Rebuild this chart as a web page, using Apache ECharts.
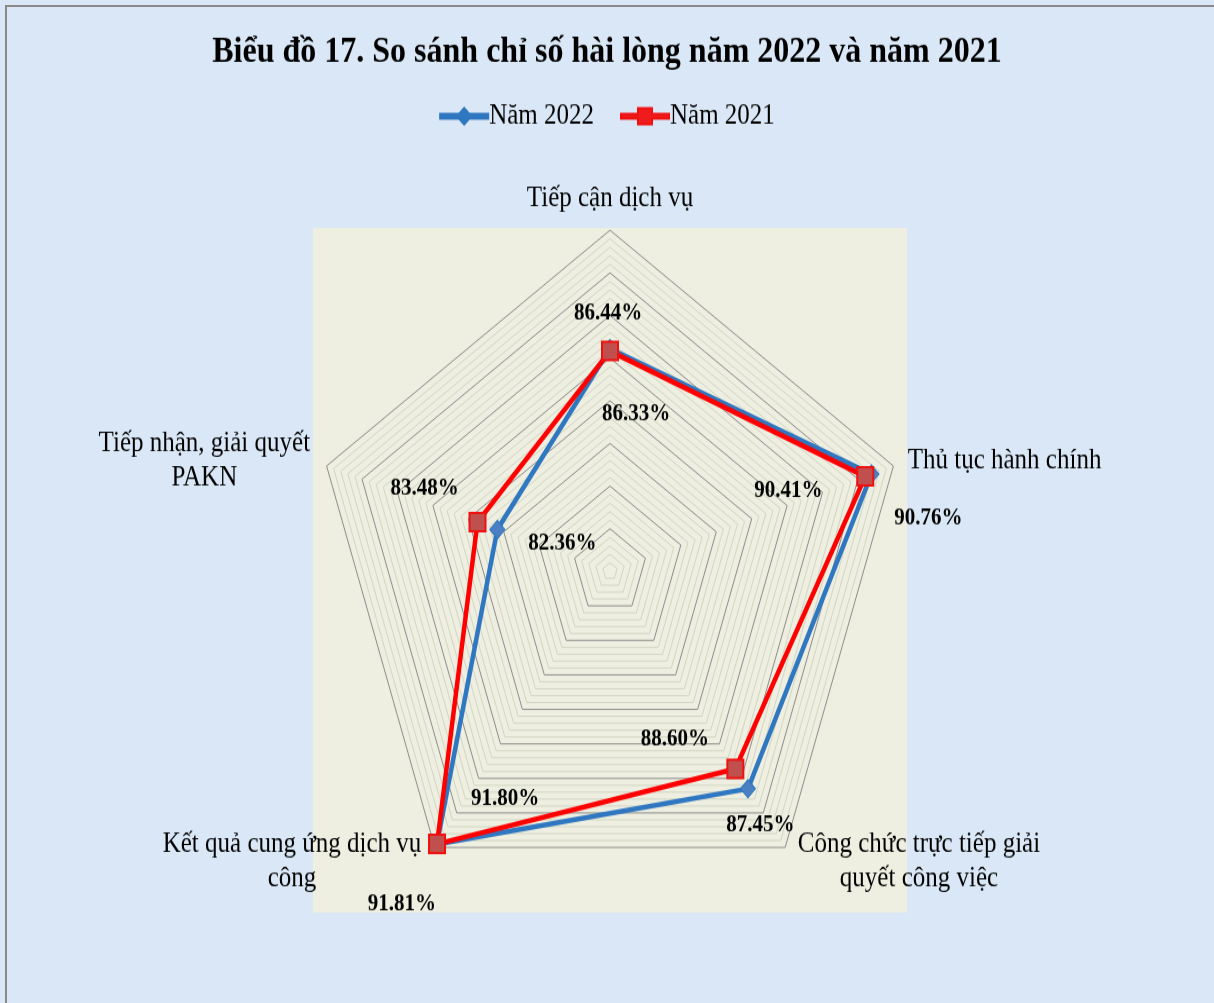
<!DOCTYPE html>
<html>
<head>
<meta charset="utf-8">
<script src="https://cdn.jsdelivr.net/npm/echarts@6/dist/echarts.min.js"></script>
<style>
html,body{margin:0;padding:0;background:#d9e7f6;width:1214px;height:1003px;overflow:hidden;}
#frame{position:absolute;left:5px;top:5px;width:1209px;height:998px;border-left:2px solid #8a8a8a;border-top:2px solid #8a8a8a;box-sizing:border-box;}
#c{position:absolute;left:0;top:0;width:1214px;height:876px;transform:scaleY(1.145);transform-origin:0 0;}
</style>
</head>
<body>
<div id="frame"></div>
<div id="c"></div>
<script>
// ---- data ----
// order follows ECharts' counter-clockwise layout so the chart reads clockwise:
// top, left, lower-left, lower-right, right
const titleText = 'Biểu đồ 17. So sánh chỉ số hài lòng năm 2022 và năm 2021';
const indicators = ['Tiếp cận dịch vụ', 'Tiếp nhận, giải quyết PAKN', 'Kết quả cung ứng dịch vụ công', 'Công chức trực tiếp giải quyết công việc', 'Thủ tục hành chính'];
const seriesNames = ['Năm 2022', 'Năm 2021'];
const values2022 = [86.44, 82.36, 91.81, 88.60, 90.76];
const values2021 = [86.33, 83.48, 91.80, 87.45, 90.41];
const axisMin = 76;
const axisMax = 92;

// label placement (offsets from the point, px) - styling only
const labelOffsets2022 = [[-2, -31], [65, 12], [-35, 52], [-73, -43], [57, 39]];
const labelOffsets2021 = [[26, 55], [-53, -29], [68, -39], [25, 49], [-77, 13]];

const FONT = 'Liberation Serif, Times New Roman, serif';
const chart = echarts.init(document.getElementById('c'), null, {renderer: 'canvas'});

function fmt(v) { return v.toFixed(2) + '%'; }

function labelSeries(arr, dim, off) {
  return {
    type: 'radar',
    name: 'lbl',
    silent: true,
    z: 5,
    symbol: 'circle',
    symbolSize: 1,
    itemStyle: {color: 'rgba(0,0,0,0)'},
    lineStyle: {width: 0, opacity: 0},
    label: {
      show: true,
      position: 'inside',
      offset: off,
      color: '#000',
      fontFamily: FONT,
      fontWeight: 'bold',
      fontSize: 21,
      formatter: function (p) {
        if (p.dimensionIndex != null) return p.dimensionIndex === dim ? fmt(arr[dim]) : '';
        return p.value === arr[dim] ? fmt(arr[dim]) : '';
      }
    },
    data: [{value: arr}]
  };
}

const nameRich = {
  a: {width: 250, align: 'center', fontFamily: FONT, fontSize: 25, color: '#000', lineHeight: 30},
  b: {width: 268, align: 'center', fontFamily: FONT, fontSize: 25, color: '#000', lineHeight: 30},
  c: {width: 216, align: 'center', fontFamily: FONT, fontSize: 25, color: '#000', lineHeight: 30}
};

const series = [
  {
    type: 'radar',
    name: seriesNames[0],
    z: 3,
    symbol: 'diamond',
    symbolSize: [15, 16],
    lineStyle: {color: '#2f77c0', width: 4.5},
    itemStyle: {color: '#4a7fc2', borderColor: '#2f77c0', borderWidth: 1},
    data: [{value: values2022, name: seriesNames[0]}]
  },
  {
    type: 'radar',
    name: seriesNames[1],
    z: 4,
    symbol: 'rect',
    symbolSize: 16,
    lineStyle: {color: '#ff0000', width: 4.5},
    itemStyle: {color: '#c0504d', borderColor: '#f01010', borderWidth: 2},
    data: [{value: values2021, name: seriesNames[1]}]
  }
];
for (let i = 0; i < 5; i++) {
  series.push(labelSeries(values2022, i, labelOffsets2022[i]));
  series.push(labelSeries(values2021, i, labelOffsets2021[i]));
}

const option = {
  backgroundColor: 'transparent',
  animation: false,
  title: {
    text: titleText,
    left: 'center',
    top: 25,
    textStyle: {fontFamily: FONT, fontWeight: 'bold', fontSize: 32, color: '#000'}
  },
  legend: {
    top: 84,
    left: 'center',
    itemGap: 26,
    itemWidth: 48,
    itemHeight: 14,
    textStyle: {fontFamily: FONT, fontSize: 25, color: '#000', padding: [0, 0, 0, -4]},
    data: [
      {name: seriesNames[0], icon: 'path://M0,5 H19 L24,0 L29,5 H48 V9 H29 L24,14 L19,9 H0 Z', itemStyle: {color: '#2f77c0'}},
      {name: seriesNames[1], icon: 'path://M0,5 H17 V0 H31 V5 H48 V9 H31 V14 H17 V9 H0 Z', itemStyle: {color: '#ee1c1c'}}
    ]
  },
  graphic: [{
    type: 'rect',
    z: -10,
    silent: true,
    shape: {x: 313, y: 199, width: 594, height: 598},
    style: {fill: '#eeefe1'}
  }],
  radar: {
    center: [610, 499],
    radius: 298,
    startAngle: 90,
    shape: 'polygon',
    splitNumber: (axisMax - axisMin) / 0.4,
    nameGap: 15,
    indicator: indicators.map(n => ({name: n, min: axisMin, max: axisMax})),
    axisName: {
      color: '#000',
      fontFamily: FONT,
      fontSize: 25,
      rich: nameRich,
      formatter: function (name) {
        if (name === 'Công chức trực tiếp giải quyết công việc') return '{a|Công chức trực tiếp giải}\n{a|quyết công việc}';
        if (name === 'Kết quả cung ứng dịch vụ công') return '{b|Kết quả cung ứng dịch vụ}\n{b|công}';
        if (name === 'Tiếp nhận, giải quyết PAKN') return '{c|Tiếp nhận, giải quyết}\n{c|PAKN}';
        return name;
      }
    },
    axisLine: {show: false},
    axisTick: {show: false},
    axisLabel: {show: false},
    splitArea: {show: false},
    splitLine: {
      show: true,
      lineStyle: {width: 1, color: ['#8c8c8c', '#d2d6c4', '#d2d6c4', '#d2d6c4', '#d2d6c4']}
    }
  },
  series: series
};
chart.setOption(option);
</script>
</body>
</html>
